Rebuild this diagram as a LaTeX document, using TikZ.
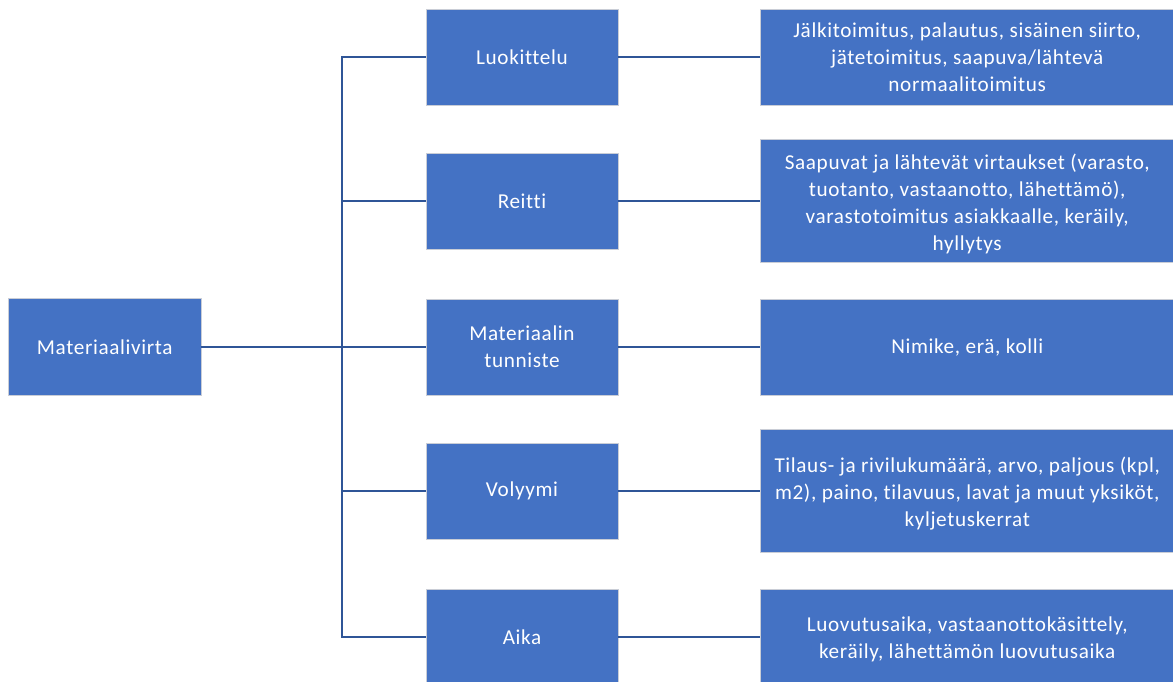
\documentclass[tikz,border=0pt]{standalone}
\usepackage{fontspec}
\setmainfont{Carlito}[LetterSpace=3, Ligatures=NoCommon]
\definecolor{boxfill}{HTML}{4472C4}
\definecolor{boxedge}{HTML}{C9CDD6}
\definecolor{linkblue}{HTML}{2F5597}
\begin{document}
\begin{tikzpicture}[x=1pt,y=-1pt,
  boxtext/.style={text=white, align=center, inner sep=0pt,
    font=\fontsize{21.2}{27}\selectfont},
  box/.style={rectangle, fill=boxfill, draw=boxedge, line width=0.8pt, boxtext},
  leftbox/.style={box, minimum width=192.5pt, minimum height=97pt},
  midbox/.style={box, minimum width=192pt, minimum height=96pt},
  rightbox/.style={box, minimum width=413pt, minimum height=96pt},
  tallbox/.style={rightbox, minimum height=123pt},
  lowtext/.style={label={[boxtext, yshift=-2.5pt]center:{#1}}},
  link/.style={draw=linkblue, line width=1.4pt}]
\useasboundingbox (0,0) rectangle (1173,682);

% root
\node[leftbox] (mv) at (104.75,347) {Materiaalivirta};

% second level
\node[midbox] (m1) at (522,57)  {Luokittelu};
\node[midbox] (m2) at (522,201) {Reitti};
\node[midbox] (m3) at (522,347) {Materiaalin\\tunniste};
\node[midbox] (m4) at (522,491) {Volyymi};
\node[midbox] (m5) at (522,637) {Aika};

% details
\node[rightbox] (r1) at (967.2,57) {Jälkitoimitus, palautus, sisäinen siirto,\\jätetoimitus, saapuva/lähtevä\\normaalitoimitus};
\node[tallbox, lowtext={Saapuvat ja lähtevät virtaukset (varasto,\\tuotanto, vastaanotto, lähettämö),\\varastotoimitus asiakkaalle, keräily,\\hyllytys}] (r2) at (967.2,201) {};
\node[rightbox] (r3) at (967.2,347) {Nimike, erä, kolli};
\node[tallbox, lowtext={Tilaus- ja rivilukumäärä, arvo, paljous (kpl,\\m2), paino, tilavuus, lavat ja muut yksiköt,\\kyljetuskerrat}] (r4) at (967.2,491) {};
\node[rightbox, lowtext={Luovutusaika, vastaanottokäsittely,\\keräily, lähettämön luovutusaika}] (r5) at (967.2,637) {};

% connectors
\coordinate (trunk) at (342,347);
\draw[link] (mv.east) -- (m3.west);
\foreach \i in {1,2,4,5} {\draw[link] (trunk) |- (m\i.west);}
\foreach \i in {1,...,5} {\draw[link] (m\i.east) -- (r\i.west);}
\end{tikzpicture}
\end{document}
